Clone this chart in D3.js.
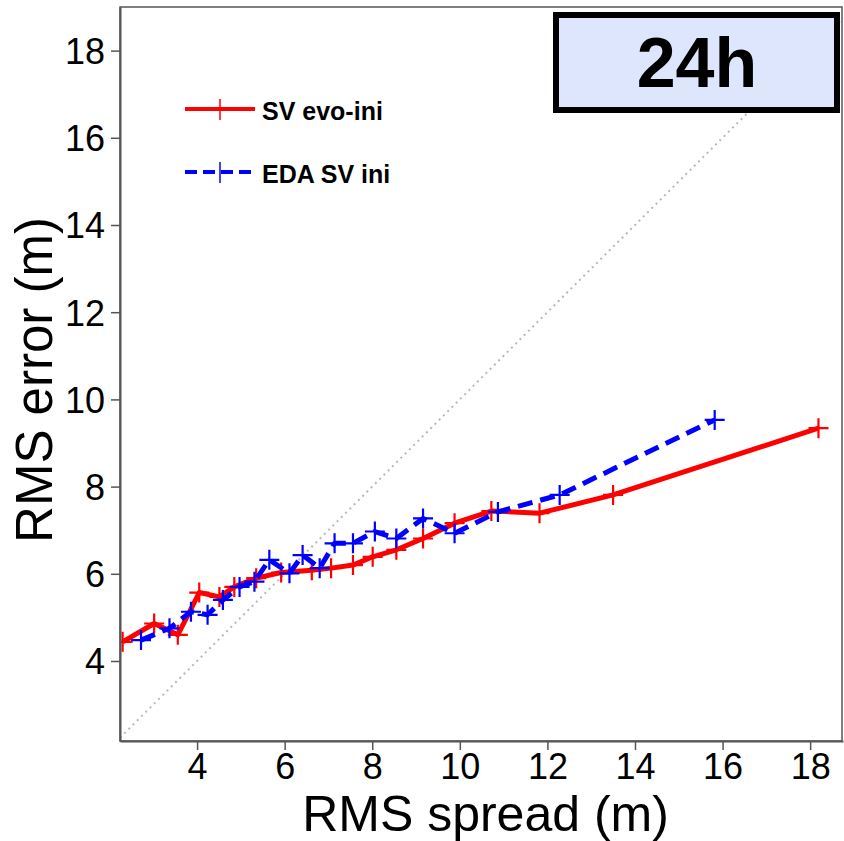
<!DOCTYPE html>
<html>
<head>
<meta charset="utf-8">
<script src="https://cdn.jsdelivr.net/npm/d3@7"></script>
<style>
  html, body { margin: 0; padding: 0; background: #fff; }
  svg text { font-family: "Liberation Sans", Arial, Helvetica, sans-serif; }
</style>
</head>
<body>
<div id="chart"></div>
<script>
const WIDTH = 844;
const HEIGHT = 841;
const MARGIN = { top: 7, right: 1, bottom: 100, left: 120 };

// SV evo-ini (red, solid)
const svEvoX = [2.30, 3.02, 3.56, 4.05, 4.51, 4.85, 5.35, 5.92, 6.62, 7.06, 7.56, 8.01, 8.55, 9.16, 9.88, 10.72, 11.82, 13.50, 18.19];
const svEvoY = [4.44, 4.86, 4.60, 5.57, 5.47, 5.70, 5.90, 6.03, 6.08, 6.13, 6.20, 6.39, 6.55, 6.81, 7.16, 7.44, 7.39, 7.81, 9.34];

// EDA SV ini (blue, dashed)
const edaX = [2.72, 3.37, 3.86, 4.24, 4.59, 4.97, 5.31, 5.65, 6.11, 6.41, 6.80, 7.14, 7.56, 8.06, 8.55, 9.16, 9.88, 10.87, 12.28, 15.82];
const edaY = [4.48, 4.75, 5.13, 5.06, 5.40, 5.70, 5.82, 6.32, 6.01, 6.43, 6.13, 6.70, 6.70, 6.97, 6.81, 7.27, 6.93, 7.42, 7.81, 9.53];

const xTicks = [4, 6, 8, 10, 12, 14, 16, 18];
const yTicks = [4, 6, 8, 10, 12, 14, 16, 18];
const xDomain = [2.24, 18.75];
const yDomain = [2.165, 19.0];

const series = [
  { name: 'SV evo-ini', xs: svEvoX, ys: svEvoY, color: '#ff0000', dash: null },
  { name: 'EDA SV ini', xs: edaX, ys: edaY, color: '#0000ff', dash: '15,8' }
];

const svg = d3.select('#chart').append('svg')
  .attr('width', WIDTH)
  .attr('height', HEIGHT);

const x = d3.scaleLinear().domain(xDomain).range([MARGIN.left, WIDTH - MARGIN.right]);
const y = d3.scaleLinear().domain(yDomain).range([HEIGHT - MARGIN.bottom, MARGIN.top]);

// clip for plot area
svg.append('clipPath').attr('id', 'plot-clip')
  .append('rect')
  .attr('x', MARGIN.left).attr('y', MARGIN.top)
  .attr('width', WIDTH - MARGIN.left - MARGIN.right)
  .attr('height', HEIGHT - MARGIN.top - MARGIN.bottom);

const plot = svg.append('g').attr('clip-path', 'url(#plot-clip)');

// diagonal y = x
const diagLo = Math.max(xDomain[0], yDomain[0]);
const diagHi = Math.min(xDomain[1], yDomain[1]);
plot.append('line')
  .attr('x1', x(diagLo)).attr('y1', y(diagLo))
  .attr('x2', x(diagHi)).attr('y2', y(diagHi))
  .attr('stroke', '#b8b8b8')
  .attr('stroke-width', 2)
  .attr('stroke-dasharray', '2,4');

// series lines + markers
const line = d3.line().x((d) => x(d[0])).y((d) => y(d[1]));
const MK = 10;
series.forEach((s) => {
  const pts = s.xs.map((v, i) => [v, s.ys[i]]);
  plot.append('path')
    .attr('d', line(pts))
    .attr('fill', 'none')
    .attr('stroke', s.color)
    .attr('stroke-width', 5)
    .attr('stroke-linejoin', 'round')
    .attr('stroke-dasharray', s.dash);
  plot.append('g').selectAll('path')
    .data(pts)
    .enter().append('path')
    .attr('d', (d) => `M${x(d[0]) - MK},${y(d[1])}H${x(d[0]) + MK}M${x(d[0])},${y(d[1]) - MK}V${y(d[1]) + MK}`)
    .attr('stroke', s.color)
    .attr('stroke-width', 2.2)
    .attr('fill', 'none');
});

// frame
svg.append('rect')
  .attr('x', MARGIN.left).attr('y', MARGIN.top)
  .attr('width', WIDTH - MARGIN.left - MARGIN.right - 1)
  .attr('height', HEIGHT - MARGIN.top - MARGIN.bottom)
  .attr('fill', 'none')
  .attr('stroke', '#555')
  .attr('stroke-width', 1.5);

// axes
const xAxis = svg.append('g')
  .attr('transform', `translate(0,${HEIGHT - MARGIN.bottom})`)
  .call(d3.axisBottom(x).tickValues(xTicks).tickSize(9).tickSizeOuter(0).tickPadding(3));
const yAxis = svg.append('g')
  .attr('transform', `translate(${MARGIN.left},0)`)
  .call(d3.axisLeft(y).tickValues(yTicks).tickSize(9).tickSizeOuter(0).tickPadding(6));

[xAxis, yAxis].forEach((a) => {
  a.select('.domain').attr('stroke', '#555').attr('stroke-width', 2);
  a.selectAll('.tick line').attr('stroke', '#555').attr('stroke-width', 1.5);
  a.selectAll('.tick text')
    .attr('fill', '#000')
    .attr('font-size', 36)
    .attr('font-family', '"Liberation Sans", Arial, sans-serif');
});
xAxis.selectAll('.tick text').attr('dy', '0.72em');
yAxis.selectAll('.tick text').attr('dy', '0.36em');

// axis titles
svg.append('text')
  .attr('x', (MARGIN.left + WIDTH - MARGIN.right) / 2 + 4)
  .attr('y', 831)
  .attr('text-anchor', 'middle')
  .attr('font-size', 50)
  .text('RMS spread (m)');

svg.append('text')
  .attr('transform', `translate(52,${(MARGIN.top + HEIGHT - MARGIN.bottom) / 2 + 6}) rotate(-90)`)
  .attr('text-anchor', 'middle')
  .attr('font-size', 51)
  .text('RMS error (m)');

// legend
const legend = svg.append('g');
series.forEach((s, i) => {
  const ly = 109 + i * 63;
  legend.append('line')
    .attr('x1', 185).attr('x2', 255)
    .attr('y1', ly).attr('y2', ly)
    .attr('stroke', s.color)
    .attr('stroke-width', 4)
    .attr('stroke-dasharray', s.dash ? '12,6' : null);
  legend.append('line')
    .attr('x1', 220).attr('x2', 220)
    .attr('y1', ly - 10).attr('y2', ly + 11)
    .attr('stroke', s.color)
    .attr('stroke-width', 1.5);
  legend.append('text')
    .attr('x', 262).attr('y', ly + 11)
    .attr('font-size', 25)
    .attr('font-weight', 'bold')
    .text(s.name);
});

// title box
svg.append('rect')
  .attr('x', 556).attr('y', 15)
  .attr('width', 281).attr('height', 95)
  .attr('fill', '#dde6fc')
  .attr('stroke', '#000')
  .attr('stroke-width', 6);
svg.append('text')
  .attr('x', 697).attr('y', 87)
  .attr('text-anchor', 'middle')
  .attr('font-size', 70)
  .attr('font-weight', 'bold')
  .text('24h');
</script>
</body>
</html>
